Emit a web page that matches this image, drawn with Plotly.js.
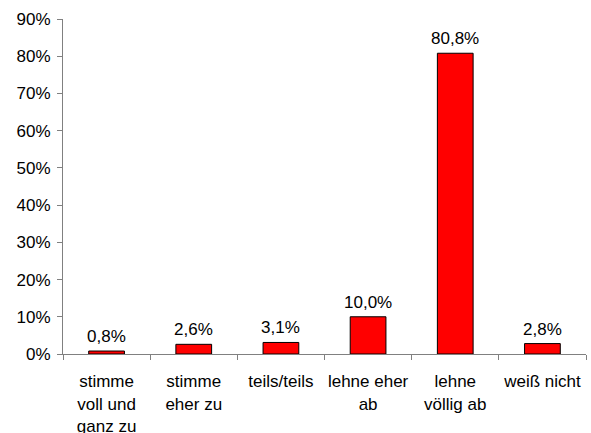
<!DOCTYPE html>
<html>
<head>
<meta charset="utf-8">
<script src="https://cdn.plot.ly/plotly-3.0.1.min.js"></script>
<style>html,body{margin:0;padding:0;background:#fff}#chart{width:591px;height:433px}</style>
</head>
<body>
<div id="chart"></div>
<script>
var categories = ['stimme voll und ganz zu', 'stimme eher zu', 'teils/teils', 'lehne eher ab', 'lehne völlig ab', 'weiß nicht'];
var tickLabels = ['stimme<br>voll und<br>ganz zu', 'stimme<br>eher zu', 'teils/teils', 'lehne eher<br>ab', 'lehne<br>völlig ab', 'weiß nicht'];
var values = [0.8, 2.6, 3.1, 10.0, 80.8, 2.8];
var yTicks = [0, 10, 20, 30, 40, 50, 60, 70, 80, 90];

var fontFam = 'Liberation Sans, Arial, sans-serif';
var fs = 17;

var trace = {
  type: 'bar',
  x: categories,
  y: values,
  marker: { color: '#FF0000', line: { color: '#000000', width: 1 } },
  width: 0.41,
  hoverinfo: 'none'
};

var annotations = values.map(function (v, i) {
  return {
    x: categories[i], y: v, xref: 'x', yref: 'y',
    text: v.toFixed(1).replace('.', ',') + '%',
    showarrow: false, yanchor: 'bottom', yshift: 3,
    font: { family: fontFam, size: fs, color: '#000' }
  };
});

var layout = {
  width: 591, height: 433,
  margin: { l: 63, r: 5, t: 19, b: 79, pad: 0 },
  paper_bgcolor: '#fff', plot_bgcolor: '#fff',
  showlegend: false,
  font: { family: fontFam, size: fs, color: '#000' },
  xaxis: {
    type: 'category',
    tickmode: 'array', tickvals: categories, ticktext: tickLabels,
    tickangle: 0,
    tickson: 'boundaries', ticks: 'outside', ticklen: 5, tickcolor: '#808080',
    ticklabelstandoff: 12,
    showline: true, linecolor: '#808080', linewidth: 1,
    showgrid: false, zeroline: false,
    tickfont: { family: fontFam, size: fs, color: '#000' }
  },
  yaxis: {
    range: [0, 90],
    tickmode: 'array', tickvals: yTicks, ticktext: yTicks.map(function (t) { return t + '%'; }),
    ticks: 'outside', ticklen: 5, tickcolor: '#808080',
    ticklabelstandoff: 3,
    showline: true, linecolor: '#808080', linewidth: 1,
    showgrid: false, zeroline: false,
    tickfont: { family: fontFam, size: fs, color: '#000' }
  },
  annotations: annotations
};

Plotly.newPlot('chart', [trace], layout, { staticPlot: true, displayModeBar: false });
</script>
</body>
</html>
